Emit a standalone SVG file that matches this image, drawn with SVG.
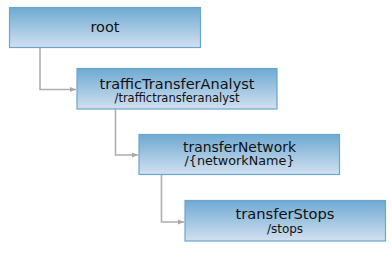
<svg xmlns="http://www.w3.org/2000/svg" width="392" height="260" viewBox="0 0 392 260">
<defs>
<linearGradient id="g" x1="0" y1="0" x2="0" y2="1">
<stop offset="0" stop-color="#6eaad2"/>
<stop offset="1" stop-color="#d2e0f0"/>
</linearGradient>
<marker id="arr" markerWidth="6" markerHeight="6" refX="6" refY="3" orient="auto" markerUnits="userSpaceOnUse">
<path d="M0,0.5 L6,3 L0,5.5 Z" fill="#a8a8a8"/>
</marker>
<style>
.box{fill:url(#g);stroke:#6aa6cf;stroke-width:1.2}
.t{font-family:"DejaVu Sans",sans-serif;font-size:14.5px;fill:#111;text-anchor:middle}
.s{font-family:"DejaVu Sans",sans-serif;font-size:12px;fill:#111;text-anchor:middle}
.c{fill:none;stroke:#b0b0b0;stroke-width:1.6}
</style>
</defs>
<g id="connectors">
<path class="c" d="M40,48 V89.5 H76" marker-end="url(#arr)"/>
<path class="c" d="M115.5,109.5 V155 H138" marker-end="url(#arr)"/>
<path class="c" d="M161.5,175 V222 H184" marker-end="url(#arr)"/>
</g>
<g id="root">
<rect class="box" x="9.5" y="7.5" width="191" height="40"/>
<text class="t" x="105" y="32">root</text>
</g>
<g id="trafficTransferAnalyst">
<rect class="box" x="77" y="68.5" width="200" height="40.5"/>
<text class="t" x="177" y="89" textLength="155" lengthAdjust="spacingAndGlyphs">trafficTransferAnalyst</text>
<text class="s" x="177" y="102" textLength="125" lengthAdjust="spacingAndGlyphs">/traffictransferanalyst</text>
</g>
<g id="transferNetwork">
<rect class="box" x="139" y="134.5" width="200.5" height="40"/>
<text class="t" x="239.5" y="152" textLength="113" lengthAdjust="spacingAndGlyphs">transferNetwork</text>
<text class="s" x="239.5" y="165" textLength="110" lengthAdjust="spacingAndGlyphs">/{networkName}</text>
</g>
<g id="transferStops">
<rect class="box" x="185" y="200.5" width="200.5" height="40.5"/>
<text class="t" x="285" y="219" textLength="99" lengthAdjust="spacingAndGlyphs">transferStops</text>
<text class="s" x="285" y="233">/stops</text>
</g>
</svg>
